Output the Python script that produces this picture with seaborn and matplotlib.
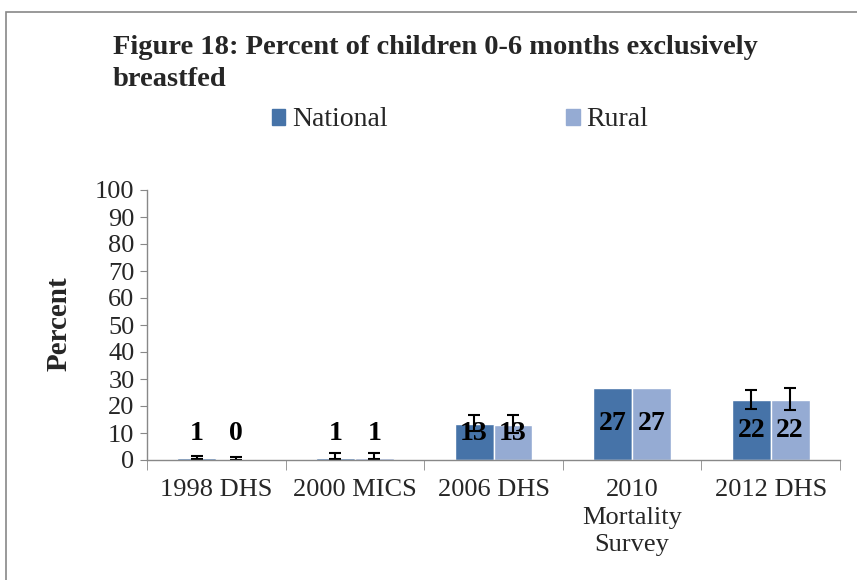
import seaborn as sns
import matplotlib.pyplot as plt
import matplotlib.patches as mpatches
import pandas as pd
import numpy as np

surveys = ["1998 DHS", "2000 MICS", "2006 DHS", "2010\nMortality\nSurvey", "2012 DHS"]
national = [0.8, 0.9, 13.2, 26.8, 22.1]
rural = [0.4, 0.9, 12.8, 26.8, 22.1]
national_low = [0.4, 0.4, 10.6, np.nan, 18.8]
national_high = [1.5, 2.6, 16.5, np.nan, 26.1]
rural_low = [0.0, 0.4, 9.9, np.nan, 18.4]
rural_high = [1.2, 2.6, 16.7, np.nan, 26.6]
labels_national = ["1", "1", "13", "27", "22"]
labels_rural = ["0", "1", "13", "27", "22"]

df = pd.DataFrame({
    "survey": surveys * 2,
    "area": ["National"] * 5 + ["Rural"] * 5,
    "value": national + rural,
})

sns.set_style("white")
plt.rcParams["font.family"] = ["Liberation Serif", "DejaVu Serif"]

fig = plt.figure(figsize=(8.57, 5.8), dpi=100)
ax = fig.add_axes([147 / 857, 120 / 580, 693 / 857, 270 / 580])

colors = {"National": "#4673a8", "Rural": "#95abd3"}
sns.barplot(data=df, x="survey", y="value", hue="area", palette=colors,
            width=0.56, gap=0, saturation=1, errorbar=None, legend=False, ax=ax)

# error bars and value labels
for cont, vals, lo, hi, labs in [
    (ax.containers[0], national, national_low, national_high, labels_national),
    (ax.containers[1], rural, rural_low, rural_high, labels_rural),
]:
    for bar, v, l, h, t in zip(cont, vals, lo, hi, labs):
        xc = bar.get_x() + bar.get_width() / 2
        if not np.isnan(l):
            ax.errorbar(xc, v, yerr=[[v - l], [h - v]], fmt="none",
                        ecolor="black", elinewidth=1.5, capsize=4.5, capthick=1.5)
        ax.text(xc, max(v / 2, 10), t, ha="center", va="center",
                fontsize=20, fontweight="bold", color="black")

ax.set_ylim(0, 100)
ax.set_xlim(-0.5, 4.5)
ax.set_yticks(range(0, 101, 10))
ax.tick_params(axis="y", labelsize=19, length=5, color="#888888", direction="out", left=True, pad=4)
ax.tick_params(axis="x", which="major", labelsize=19, length=0, pad=14)
ax.set_xticks(np.arange(-0.5, 5, 1), minor=True)
ax.tick_params(axis="x", which="minor", length=7, color="#888888", bottom=True)
for lab in ax.get_xticklabels():
    lab.set_linespacing(1.3)
ax.set_xlabel("")
ax.set_ylabel("Percent", fontsize=21, fontweight="bold")
ax.yaxis.set_label_coords(-0.108, 0.504)
for side in ["top", "right"]:
    ax.spines[side].set_visible(False)
for side in ["left", "bottom"]:
    ax.spines[side].set_color("#888888")
    ax.spines[side].set_linewidth(1)

fig.text(113 / 857, 1 - 35 / 580, "Figure 18: Percent of children 0-6 months exclusively\nbreastfed",
         fontsize=20.5, fontweight="bold", va="top", ha="left", linespacing=1.35)

handles = [mpatches.Patch(color=colors["National"], label="National"),
           mpatches.Patch(color=colors["Rural"], label="Rural")]
fig.legend(handles=handles, loc="center", bbox_to_anchor=(460 / 857, 1 - 120 / 580),
           ncol=2, frameon=False, fontsize=20, handlelength=0.5, handleheight=0.5,
           handletextpad=0.25, columnspacing=6.4)

fig.patches.append(mpatches.Rectangle((6 / 857, -0.1), 2, 1.1 - 12 / 580,
                                      transform=fig.transFigure, fill=False,
                                      edgecolor="#888888", linewidth=1.2))

fig.savefig("out.png", dpi=100)
